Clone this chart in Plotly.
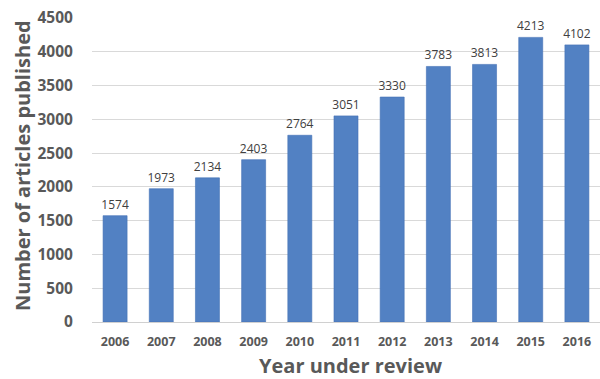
import plotly.graph_objects as go

years = ["2006", "2007", "2008", "2009", "2010", "2011", "2012", "2013", "2014", "2015", "2016"]
articles = [1574, 1973, 2134, 2403, 2764, 3051, 3330, 3783, 3813, 4213, 4102]
y_ticks = [0, 500, 1000, 1500, 2000, 2500, 3000, 3500, 4000, 4500]

W, H = 600, 379
L, R, T, B = 92, 0, 18, 57
plot_w = W - L - R
plot_h = H - T - B

fig = go.Figure(
    go.Bar(
        x=years,
        y=articles,
        width=0.52,
        marker=dict(
            color="#5281c3",
            line=dict(color="#4371b5", width=0.6),
        ),
        text=articles,
        texttemplate="%{text}",
        textposition="outside",
        constraintext="none",
        textfont=dict(family="Open Sans, sans-serif", size=12, color="#404040"),
        cliponaxis=False,
    )
)

fig.update_layout(
    width=W,
    height=H,
    margin=dict(l=L, r=R, t=T, b=B),
    paper_bgcolor="white",
    plot_bgcolor="white",
    showlegend=False,
    xaxis=dict(
        type="category",
        range=[-0.5, 10.5],
        showgrid=False,
        showline=True,
        linecolor="#d0d0d0",
        linewidth=1,
        ticks="outside",
        ticklen=8,
        tickcolor="rgba(0,0,0,0)",
        tickfont=dict(family="Open Sans, sans-serif", size=12.5, color="#595959", weight="bold"),
    ),
    yaxis=dict(
        range=[0, 4500],
        tickvals=y_ticks,
        showgrid=True,
        gridcolor="#d9d9d9",
        gridwidth=1,
        zeroline=False,
        showline=False,
        ticks="outside",
        ticklen=15,
        tickcolor="rgba(0,0,0,0)",
        tickfont=dict(family="Open Sans, sans-serif", size=15.5, color="#595959", weight="bold"),
    ),
    annotations=[
        dict(
            text="Number of articles published",
            xref="paper", yref="paper",
            x=(22 - L) / plot_w, y=(322 - 166) / plot_h,
            textangle=-90,
            showarrow=False,
            xanchor="center", yanchor="middle",
            font=dict(family="Open Sans, sans-serif", size=20, color="#595959", weight="bold"),
        ),
        dict(
            text="Year under review",
            xref="paper", yref="paper",
            x=(350 - L) / plot_w, y=-(365 - 322) / plot_h,
            showarrow=False,
            xanchor="center", yanchor="middle",
            font=dict(family="Open Sans, sans-serif", size=20, color="#595959", weight="bold"),
        ),
    ],
)

fig.write_html("out.html")
